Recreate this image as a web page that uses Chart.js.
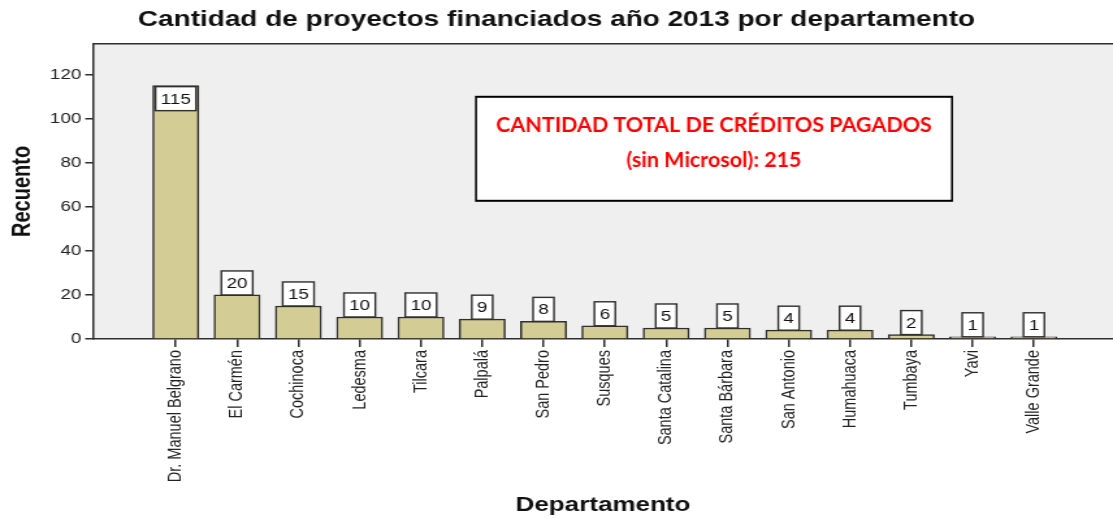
<!DOCTYPE html>
<html>
<head>
<meta charset="utf-8">
<script src="https://cdn.jsdelivr.net/npm/chart.js@4/dist/chart.umd.min.js"></script>
<style>
  html, body { margin: 0; padding: 0; background: #fff; overflow: hidden; }
  #wrap { position: absolute; left: 0; top: 0; height: 519px; transform-origin: 0 0; }
</style>
</head>
<body>
<div id="wrap"><canvas id="chart"></canvas></div>
<script>
const DEPARTAMENTOS = ['Dr. Manuel Belgrano', 'El Carmén', 'Cochinoca', 'Ledesma', 'Tilcara', 'Palpalá',
  'San Pedro', 'Susques', 'Santa Catalina', 'Santa Bárbara', 'San Antonio', 'Humahuaca', 'Tumbaya', 'Yavi', 'Valle Grande'];
const RECUENTO = [115, 20, 15, 10, 10, 9, 8, 6, 5, 5, 4, 4, 2, 1, 1];
const Y_TICKS = [0, 20, 40, 60, 80, 100, 120];
const NOTE_LINES = ['CANTIDAD TOTAL DE CRÉDITOS PAGADOS', '(sin Microsol): 215'];

// the original picture is stretched sideways, so draw narrow and scale the canvas
const CANVAS_W = 856;
const STRETCH = 1113 / CANVAS_W;
const wrap = document.getElementById('wrap');
wrap.style.width = CANVAS_W + 'px';
wrap.style.transform = 'scaleX(' + STRETCH + ')';

const FONT = 'Liberation Sans, Arial, sans-serif';
const AXIS = '#2e2e2e';

const plotFrame = {
  id: 'plotFrame',
  beforeDraw(chart) {
    const { ctx, chartArea: a } = chart;
    ctx.save();
    ctx.fillStyle = '#efefef';
    ctx.fillRect(a.left, a.top, a.right - a.left, a.bottom - a.top);
    ctx.strokeStyle = AXIS;
    ctx.lineWidth = 1.5;
    ctx.beginPath();
    ctx.moveTo(a.left, a.top);
    ctx.lineTo(a.right, a.top);
    ctx.stroke();
    ctx.restore();
  }
};

const valueBoxes = {
  id: 'valueBoxes',
  afterDatasetsDraw(chart) {
    const { ctx, chartArea: a } = chart;
    const meta = chart.getDatasetMeta(0);
    ctx.save();
    ctx.font = '14.5px ' + FONT;
    ctx.textAlign = 'center';
    ctx.textBaseline = 'middle';
    meta.data.forEach((bar, i) => {
      const txt = String(RECUENTO[i]);
      const w = ctx.measureText(txt).width + 8;
      const h = 24;
      const inside = (a.bottom - bar.y) > (a.bottom - a.top) * 0.4;
      const top = inside ? bar.y + 1 : bar.y - h;
      ctx.fillStyle = '#fff';
      ctx.fillRect(bar.x - w / 2, top, w, h);
      ctx.strokeStyle = AXIS;
      ctx.lineWidth = 1.4;
      ctx.strokeRect(bar.x - w / 2, top, w, h);
      ctx.fillStyle = '#111';
      ctx.fillText(txt, bar.x, top + h / 2 + 1);
    });
    ctx.restore();
  }
};

// text box pasted over the chart (not stretched in the original)
const noteBox = {
  id: 'noteBox',
  afterDraw(chart) {
    const { ctx, chartArea: a } = chart;
    ctx.save();
    ctx.scale(1 / STRETCH, 1);
    const x = a.left * STRETCH + 383, y = a.top + 53, w = 476, h = 104;
    ctx.fillStyle = '#fff';
    ctx.fillRect(x, y, w, h);
    ctx.strokeStyle = '#000';
    ctx.lineWidth = 2;
    ctx.strokeRect(x, y, w, h);
    ctx.font = 'bold 20px Lato, sans-serif';
    const size = 20 * 435 / ctx.measureText(NOTE_LINES[0]).width;
    ctx.font = 'bold ' + size.toFixed(1) + 'px Lato, sans-serif';
    ctx.fillStyle = '#ff0000';
    ctx.textAlign = 'center';
    ctx.textBaseline = 'middle';
    ctx.fillText(NOTE_LINES[0], x + w / 2, y + 28);
    ctx.fillText(NOTE_LINES[1], x + w / 2, y + 63);
    ctx.restore();
  }
};

new Chart(document.getElementById('chart'), {
  type: 'bar',
  data: {
    datasets: [{
      data: RECUENTO.map((v, i) => ({ x: i, y: v })),
      backgroundColor: '#d3cd95',
      borderColor: AXIS,
      borderWidth: 1.5,
      barThickness: 46 / STRETCH
    }]
  },
  options: {
    responsive: true,
    maintainAspectRatio: false,
    animation: false,
    layout: { padding: 0 },
    plugins: {
      legend: { display: false },
      tooltip: { enabled: false },
      title: {
        display: true,
        text: 'Cantidad de proyectos financiados año 2013 por departamento',
        color: '#111',
        font: { family: FONT, size: 21.5, weight: 'bold' },
        padding: { top: 7, bottom: 11 }
      }
    },
    scales: {
      x: {
        type: 'linear',
        offset: false,
        min: -1.35,
        max: 15.29,
        afterBuildTicks: s => { s.ticks = DEPARTAMENTOS.map((_, i) => ({ value: i })); },
        afterFit: s => { s.height = 180; },
        grid: { display: true, offset: false, drawOnChartArea: false, drawTicks: true, tickLength: 8, color: AXIS, lineWidth: 1.5 },
        border: { display: true, color: AXIS, width: 1.5 },
        ticks: {
          autoSkip: false,
          minRotation: 90,
          maxRotation: 90,
          padding: 3,
          color: '#222',
          font: { family: FONT, size: 14.5 },
          callback: v => DEPARTAMENTOS[v]
        },
        title: {
          display: true,
          text: 'Departamento',
          color: '#111',
          font: { family: FONT, size: 20, weight: 'bold' },
          padding: { top: 0, bottom: 2 }
        }
      },
      y: {
        min: 0,
        max: 134,
        afterBuildTicks: s => { s.ticks = Y_TICKS.map(v => ({ value: v })); },
        afterFit: s => { s.width = 93 / STRETCH; },
        grid: { display: true, drawOnChartArea: false, drawTicks: true, tickLength: 6, color: AXIS, lineWidth: 1.5 },
        border: { display: true, color: AXIS, width: 1.5 },
        ticks: { padding: 3, color: '#222', font: { family: FONT, size: 14.5 } },
        title: {
          display: true,
          text: 'Recuento',
          color: '#111',
          font: { family: FONT, size: 20, weight: 'bold' },
          padding: { top: 5, bottom: 0 }
        }
      }
    }
  },
  plugins: [plotFrame, valueBoxes, noteBox]
});
</script>
</body>
</html>
